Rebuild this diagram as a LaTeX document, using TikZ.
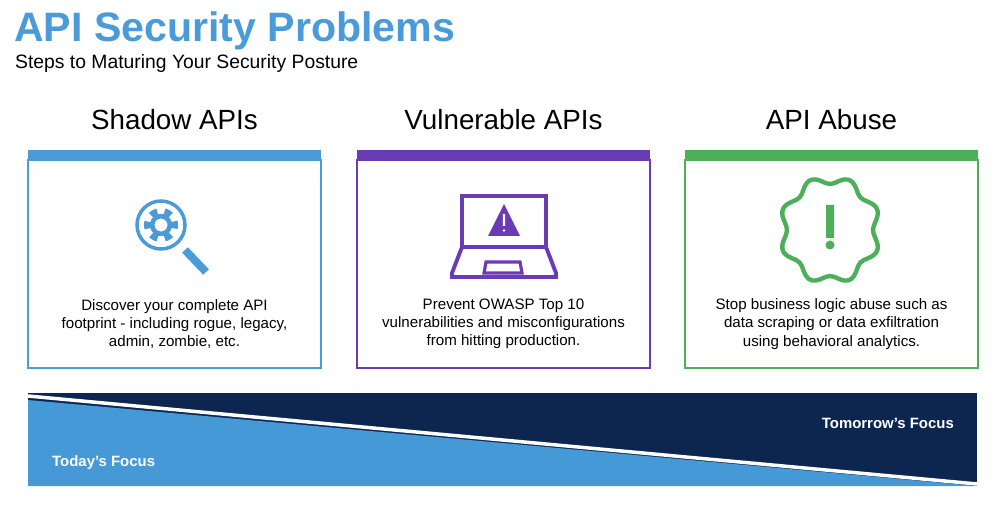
\documentclass[tikz,border=0pt]{standalone}
\usepackage{fontspec}
\setmainfont{Liberation Sans}
\hyphenpenalty=10000
\exhyphenpenalty=10000
\begin{document}
\definecolor{apiBlue}{HTML}{4A9BD8}
\definecolor{apiPurple}{HTML}{6A3BB5}
\definecolor{apiGreen}{HTML}{4DAF5A}
\definecolor{apiNavy}{HTML}{0D2650}
\definecolor{apiSky}{HTML}{4599D6}
\begin{tikzpicture}[x=0.02cm,y=-0.02cm,
    heading/.style={font=\fontsize{15.8}{19}\selectfont},
    body/.style={font=\fontsize{8.6}{10.3}\selectfont,align=center},
    focus/.style={font=\fontsize{8.5}{10}\selectfont\bfseries,text=white}]

    \useasboundingbox (0,0) rectangle (1000,506);

    % title
    \node [anchor=west,text=apiBlue,font=\fontsize{23.4}{28}\selectfont\bfseries] (Title) at (8,31) {API Security Problems};
    \node [anchor=west,font=\fontsize{11}{13}\selectfont] (Subtitle) at (9,64) {Steps to Maturing Your Security Posture};

    % three cards
    \newcommand{\drawCard}[5]{
        % #1 = name, #2 = left x, #3 = colour, #4 = heading, #5 = text
        \draw [#3, line width=0.7pt] (#2,160) rectangle ++(293,208);
        \fill [#3] (#2,150) rectangle ++(293,10);
        \node [heading] (#1Head) at (#2+146.5,120) {#4};
        \node [body] (#1Text) at (#2+146.5,324) {#5};
    }
    \drawCard{Shadow}{28}{apiBlue}{Shadow APIs}{Discover your complete API\\footprint - including rogue, legacy,\\admin, zombie, etc.}
    \drawCard{Vuln}{357}{apiPurple}{Vulnerable APIs}{Prevent OWASP Top 10\\vulnerabilities and misconfigurations\\from hitting production.}
    \drawCard{Abuse}{685}{apiGreen}{API Abuse}{Stop business logic abuse such as\\data scraping or data exfiltration\\using behavioral analytics.}

    % magnifier icon
    \draw [apiBlue, line width=2pt] (161,225) circle (24);
    \draw [apiBlue, line width=4.5pt] (185,250) -- (206,272);
    \fill [apiBlue, even odd rule] plot [samples=361, domain=0:360, variable=\t]
        ({161+(14+3*sign(cos(6*\t+0.1)))*cos(\t)}, {225+(14+3*sign(cos(6*\t+0.1)))*sin(\t)}) -- cycle
        (161,225) circle (6.5);

    % laptop icon
    \draw [apiPurple, line width=2.2pt] (462,196) rectangle (546,247);
    \draw [apiPurple, line width=2.2pt] (462,247) -- (546,247) -- (556,273) -- (556,277) -- (452,277) -- (452,273) -- cycle;
    \draw [apiPurple, line width=1.8pt] (486,262) -- (520,262) -- (522,273) -- (484,273) -- cycle;
    \fill [apiPurple] (504,204) -- (520,236) -- (488,236) -- cycle;
    \fill [white] (502.8,214) rectangle (505.2,226) (504,230.5) circle (1.4);

    % badge icon
    \draw [apiGreen, line width=2.5pt] plot [smooth cycle, samples=73, domain=0:360, variable=\t]
        ({830+(47-4*cos(8*\t))*cos(\t)}, {230+(50-4*cos(8*\t))*sin(\t)});
    \fill [apiGreen] (826,205) rectangle (834,238) (830,245) circle (4.5);

    % focus band
    \fill [apiNavy] (28,393) rectangle (977,486);
    \fill [apiSky] (28,400) -- (977,486) -- (28,486) -- cycle;
    \draw [white, line width=2pt] (28,396) -- (977,484);
    \node [focus, anchor=west] (Today) at (46,463) {Today's Focus};
    \node [focus, anchor=east] (Tomorrow) at (960,423) {Tomorrow's Focus};

\end{tikzpicture}
\end{document}
